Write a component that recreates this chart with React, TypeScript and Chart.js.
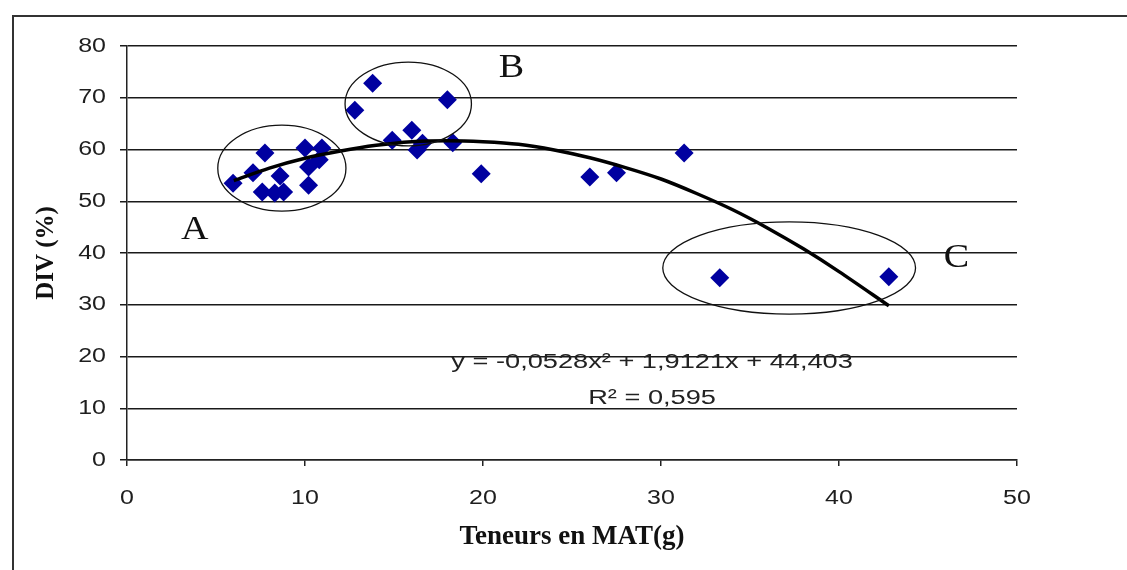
import React, { useEffect, useRef } from "react";
import { Chart, registerables } from "chart.js";

Chart.register(...registerables);

// Teneurs en MAT (g) vs DIV (%)
const matValues = [5.96, 7.08, 7.75, 7.6, 8.6, 8.3, 8.8, 10.0, 10.95, 10.2, 10.2, 10.8, 12.8, 13.8, 14.9, 16.0, 16.6, 16.3, 18.0, 18.3, 19.9, 26.0, 27.5, 31.3, 33.3, 42.8];
const divValues = [53.5, 55.5, 59.3, 51.8, 54.9, 51.6, 51.8, 60.3, 60.3, 56.6, 53.1, 58.0, 67.6, 72.8, 61.8, 63.7, 61.2, 59.9, 69.6, 61.3, 55.3, 54.7, 55.5, 59.3, 35.2, 35.4];

// trend curve
const trendX = [6, 8, 10, 12, 14, 16, 18, 20, 22, 24, 26, 28, 30, 32, 34, 36, 38, 40, 42.8];
const trendY = [54.0, 56.4, 58.3, 59.7, 60.8, 61.5, 61.7, 61.5, 61.0, 59.9, 58.4, 56.5, 54.3, 51.5, 48.4, 44.8, 40.8, 36.4, 29.8];

const xMin = 0;
const xMax = 50;
const yMin = 0;
const yMax = 80;
const tickStep = 10;

const groupLabels = ["A", "B", "C"];
const groupLabelX = [3.8, 21.6, 46.6];
const groupLabelY = [44.4, 75.7, 39.0];
const ellipseCX = [8.7, 15.8, 37.2];
const ellipseCY = [56.4, 68.8, 37.1];
const ellipseRX = [3.6, 3.55, 7.1];
const ellipseRY = [8.3, 8.1, 8.9];

const equationText = "y = -0,0528x² + 1,9121x + 44,403";
const r2Text = "R² = 0,595";
const equationPos = { x: 29.5, y: 18.8 };
const r2Pos = { x: 29.5, y: 11.8 };

const xTitle = "Teneurs en MAT(g)";
const yTitle = "DIV (%)";

const SANS = "'Liberation Sans', Arial, sans-serif";
const SERIF = "'Liberation Serif', 'Times New Roman', serif";

const decorPlugin = {
  id: "decor",
  beforeDraw(chart: any) {
    const ctx = chart.ctx;
    ctx.save();
    ctx.fillStyle = "#ffffff";
    ctx.fillRect(0, 0, chart.width, chart.height);
    ctx.strokeStyle = "#333333";
    ctx.lineWidth = 2;
    ctx.beginPath();
    ctx.moveTo(13, chart.height + 5);
    ctx.lineTo(13, 16);
    ctx.lineTo(chart.width + 5, 16);
    ctx.stroke();
    ctx.restore();
  },
  afterDraw(chart: any) {
    const ctx = chart.ctx;
    const xs = chart.scales.x;
    const ys = chart.scales.y;
    const drawStretched = (t: string, x: number, y: number, sx: number) => {
      ctx.save();
      ctx.translate(x, y);
      ctx.scale(sx, 1);
      ctx.fillText(t, 0, 0);
      ctx.restore();
    };
    ctx.save();
    // tick labels (horizontally widened, as in the source picture)
    ctx.fillStyle = "#1e1e1e";
    ctx.font = `20px ${SANS}`;
    ctx.textBaseline = "middle";
    ctx.textAlign = "right";
    ys.ticks.forEach((t: any) => {
      drawStretched(String(t.value), ys.right - 21, ys.getPixelForValue(t.value), 1.25);
    });
    ctx.textAlign = "center";
    xs.ticks.forEach((t: any) => {
      drawStretched(String(t.value), xs.getPixelForValue(t.value), xs.top + 38, 1.25);
    });
    // ellipses
    ctx.strokeStyle = "#111111";
    ctx.lineWidth = 1.3;
    for (let i = 0; i < ellipseCX.length; i++) {
      const cx = xs.getPixelForValue(ellipseCX[i]);
      const cy = ys.getPixelForValue(ellipseCY[i]);
      const rx = xs.getPixelForValue(ellipseCX[i] + ellipseRX[i]) - cx;
      const ry = cy - ys.getPixelForValue(ellipseCY[i] + ellipseRY[i]);
      ctx.beginPath();
      ctx.ellipse(cx, cy, rx, ry, 0, 0, Math.PI * 2);
      ctx.stroke();
    }
    // group letters
    ctx.fillStyle = "#111111";
    ctx.font = `34px ${SERIF}`;
    ctx.textAlign = "center";
    ctx.textBaseline = "middle";
    for (let i = 0; i < groupLabels.length; i++) {
      drawStretched(groupLabels[i], xs.getPixelForValue(groupLabelX[i]), ys.getPixelForValue(groupLabelY[i]), 1.12);
    }
    // equation
    ctx.font = `20px ${SANS}`;
    ctx.fillStyle = "#222222";
    drawStretched(equationText, xs.getPixelForValue(equationPos.x), ys.getPixelForValue(equationPos.y), 1.36);
    drawStretched(r2Text, xs.getPixelForValue(r2Pos.x), ys.getPixelForValue(r2Pos.y), 1.36);
    ctx.restore();
  },
};

export default function App() {
  const ref = useRef<HTMLCanvasElement | null>(null);
  useEffect(() => {
    if (!ref.current) return;
    const points = matValues.map((x, i) => ({ x, y: divValues[i] }));
    const trend = trendX.map((x, i) => ({ x, y: trendY[i] }));
    const chart = new Chart(ref.current, {
      type: "scatter",
      data: {
        datasets: [
          {
            label: "Tendance",
            type: "line",
            data: trend,
            borderColor: "#000000",
            borderWidth: 3.5,
            pointRadius: 0,
            showLine: true,
            tension: 0.3,
            fill: false,
            order: 0,
          } as any,
          {
            label: "DIV",
            data: points,
            pointStyle: "rectRot",
            pointRadius: 9.5,
            backgroundColor: "#0000A0",
            borderColor: "#0000A0",
            borderWidth: 0,
            order: 1,
          },
        ],
      },
      options: {
        responsive: false,
        animation: false,
        events: [],
        layout: { padding: { left: 30, right: 110, top: 46, bottom: 0 } },
        plugins: {
          legend: { display: false },
          tooltip: { enabled: false },
        },
        scales: {
          x: {
            type: "linear",
            min: xMin,
            max: xMax,
            ticks: {
              stepSize: tickStep,
              padding: 22,
              color: "rgba(0,0,0,0)",
              font: { family: SANS, size: 20 },
              maxRotation: 0,
            },
            grid: {
              drawOnChartArea: false,
              drawTicks: true,
              tickLength: 6,
              color: "#222222",
              lineWidth: 1.5,
            },
            border: { display: true, color: "#222222", width: 1.5 },
            title: {
              display: true,
              text: xTitle,
              color: "#111111",
              font: { family: SERIF, size: 27, weight: "bold" },
              padding: { top: 0, bottom: 17 },
            },
            afterFit(s: any) {
              s.height = 110;
            },
          },
          y: {
            type: "linear",
            min: yMin,
            max: yMax,
            ticks: {
              stepSize: tickStep,
              padding: 14,
              color: "rgba(0,0,0,0)",
              font: { family: SANS, size: 20 },
            },
            grid: {
              drawOnChartArea: true,
              drawTicks: true,
              tickLength: 7,
              color: "#1a1a1a",
              lineWidth: 1.5,
            },
            border: { display: true, color: "#222222", width: 1.5 },
            title: {
              display: true,
              text: yTitle,
              color: "#111111",
              font: { family: SERIF, size: 25, weight: "bold" },
              padding: { top: 2, bottom: 0 },
            },
            afterFit(s: any) {
              s.width = 97;
            },
          },
        },
      },
      plugins: [decorPlugin],
    });
    return () => chart.destroy();
  }, []);
  return (
    <div style={{ position: "absolute", left: 0, top: 0, width: 1127, height: 570 }}>
      <canvas ref={ref} width={1127} height={570} style={{ display: "block", width: 1127, height: 570 }} />
    </div>
  );
}
